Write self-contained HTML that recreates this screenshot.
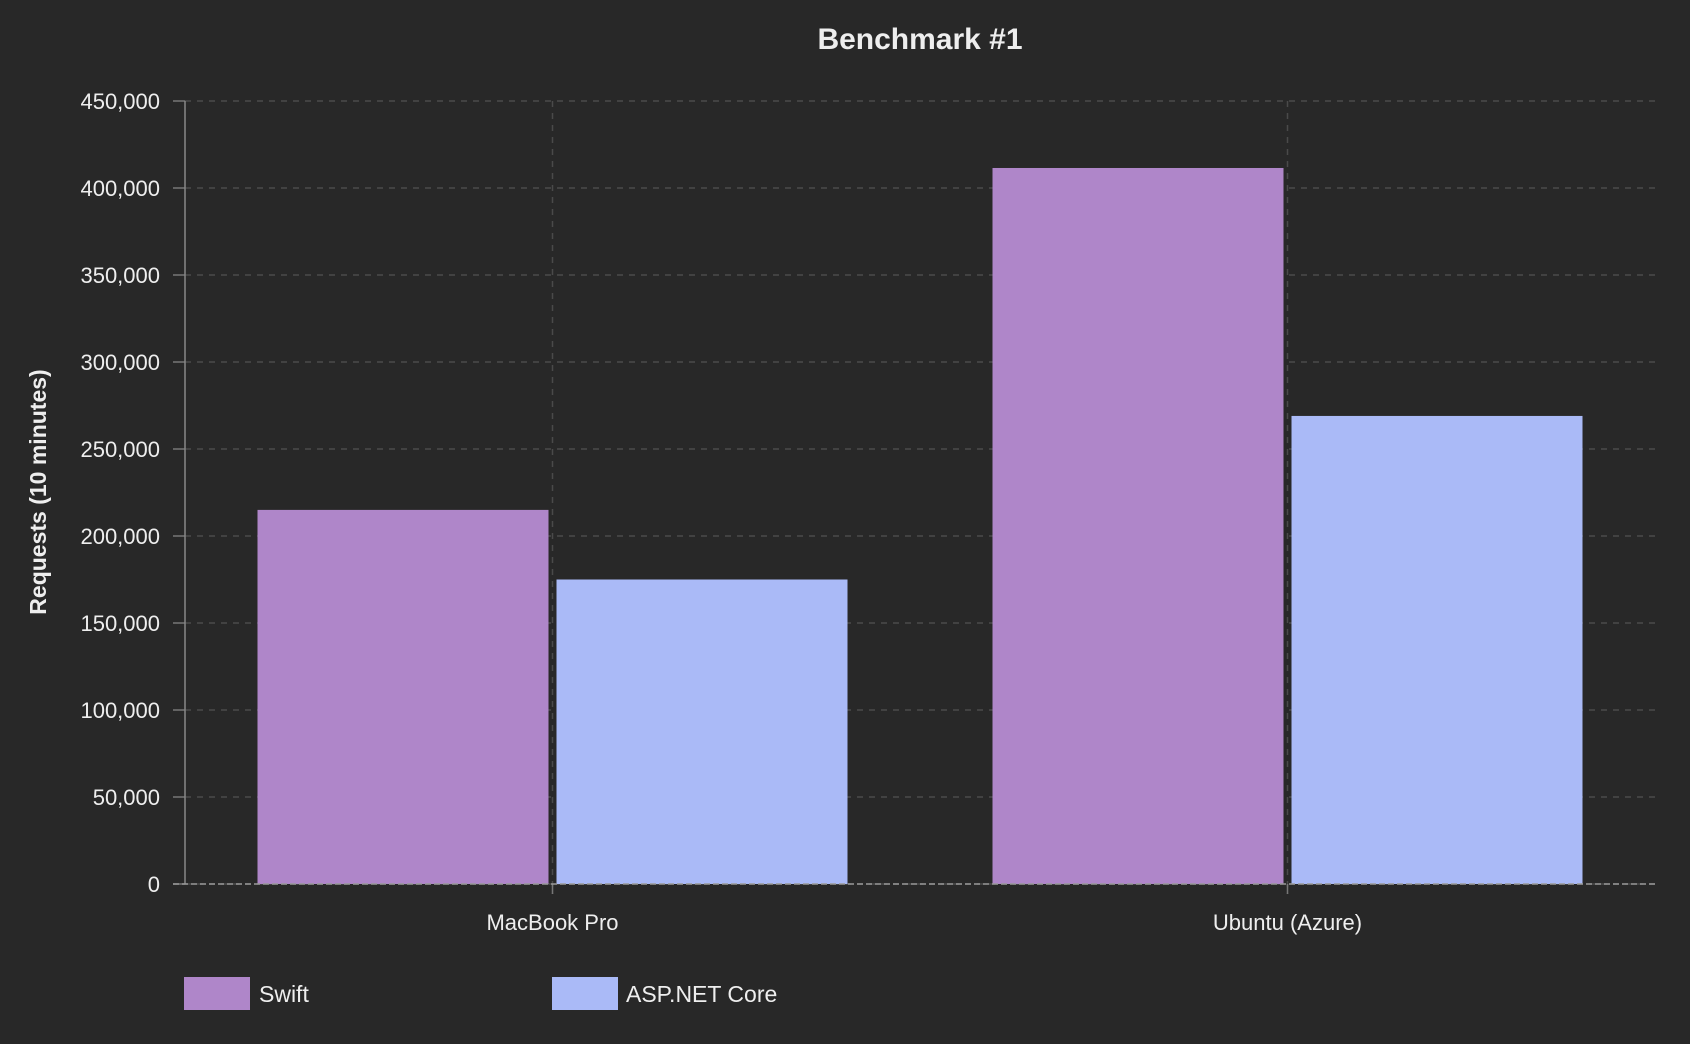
<!DOCTYPE html>
<html><head><meta charset="utf-8"><style>
html,body{margin:0;padding:0;background:#282828;}
svg{display:block;font-family:"Liberation Sans","DejaVu Sans",sans-serif;}
</style></head><body>
<svg id="chart" width="1690" height="1044" viewBox="0 0 1690 1044">
<rect width="1690" height="1044" fill="#282828"/>
<text x="920" y="49" text-anchor="middle" font-size="30" font-weight="bold" fill="#eeeeee">Benchmark #1</text>
<text transform="translate(46,492) rotate(-90)" text-anchor="middle" font-size="23" font-weight="bold" fill="#eeeeee">Requests (10 minutes)</text>
<g id="grid"></g><g id="bars"></g><g id="axes"></g>
<g>
<rect x="184" y="977" width="66" height="33" fill="#af86c9"/>
<text x="259" y="1002" font-size="23" fill="#eeeeee">Swift</text>
<rect x="552" y="977" width="66" height="33" fill="#aabaf7"/>
<text x="626" y="1002" font-size="23" fill="#eeeeee">ASP.NET Core</text>
</g>
</svg>
<script>
const categories = ["MacBook Pro", "Ubuntu (Azure)"];
const swiftValues = [215000, 411500];
const aspValues = [175000, 269000];
const yTicks = [0, 50000, 100000, 150000, 200000, 250000, 300000, 350000, 400000, 450000];

const NS = "http://www.w3.org/2000/svg";
const X0 = 185, X1 = 1655, Y0 = 884, Y1 = 101, YMAX = 450000;
const band = (X1 - X0) / categories.length;
function y(v){ return Y0 - (v / YMAX) * (Y0 - Y1); }
function xc(i){ return X0 + band * (i + 0.5); }
function mk(tag, attrs, parent){ const e = document.createElementNS(NS, tag); for (const k in attrs) e.setAttribute(k, attrs[k]); parent.appendChild(e); return e; }
const grid = document.getElementById("grid"), bars = document.getElementById("bars"), axes = document.getElementById("axes");

yTicks.forEach(t => {
  const l = mk("line", {x1: X0, x2: X1, y1: y(t), y2: y(t), stroke: "#4a4a4a", "stroke-width": 1.5, "stroke-dasharray": "6,6"}, grid);
  
  
  const tk = mk("line", {x1: X0 - 12, x2: X0, y1: y(t), y2: y(t), stroke: "#777", "stroke-width": 1.5}, axes);
  
  
  const tx = mk("text", {x: X0 - 25, y: y(t) + 8, "text-anchor": "end", "font-size": 22, fill: "#eeeeee"}, axes);
  tx.textContent = t.toLocaleString("en-US");
  
  
});
categories.forEach((c, i) => {
  const l = mk("line", {x1: xc(i), x2: xc(i), y1: Y1, y2: Y0 + 10, stroke: "#4a4a4a", "stroke-width": 1.5, "stroke-dasharray": "6,6"}, grid);
  
  
  const bw = 291, gap = 4;
  const b1 = mk("rect", {x: xc(i) - gap - bw, y: y(swiftValues[i]), width: bw, height: Y0 - y(swiftValues[i]), fill: "#af86c9"}, bars);
  
  
  const b2 = mk("rect", {x: xc(i) + gap, y: y(aspValues[i]), width: bw, height: Y0 - y(aspValues[i]), fill: "#aabaf7"}, bars);
  
  
  const tx = mk("text", {x: xc(i), y: 930, "text-anchor": "middle", "font-size": 22, fill: "#eeeeee"}, axes);
  tx.textContent = c;
  
  
  const tk = mk("line", {x1: xc(i), x2: xc(i), y1: Y0, y2: Y0 + 10, stroke: "#777", "stroke-width": 1.5}, axes);
  
  
});
const ya = mk("line", {x1: X0, x2: X0, y1: Y1, y2: Y0, stroke: "#888", "stroke-width": 1.5}, axes);


const xa = mk("line", {x1: X0 - 12, x2: X1, y1: Y0, y2: Y0, stroke: "#999", "stroke-width": 1.5, "stroke-dasharray": "6,3"}, axes);


</script>
</body></html>
